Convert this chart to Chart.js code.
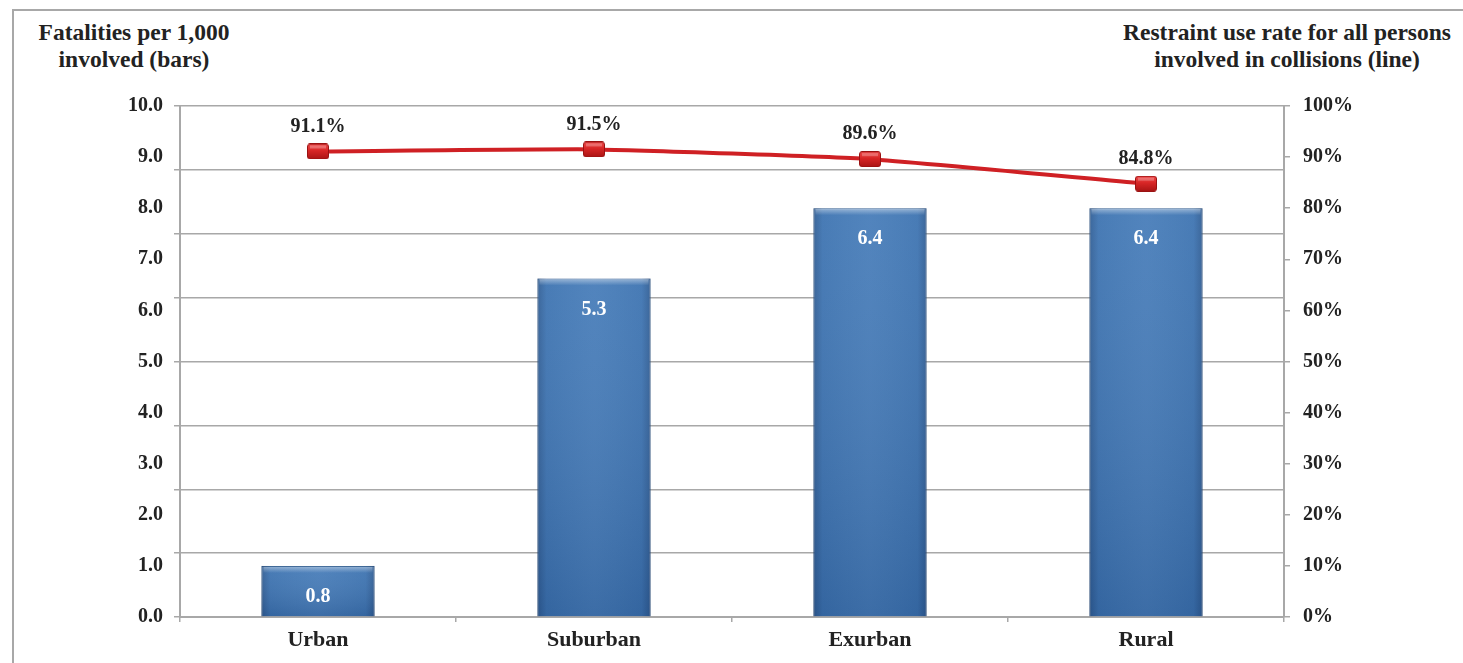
<!DOCTYPE html>
<html>
<head>
<meta charset="utf-8">
<script src="https://cdn.jsdelivr.net/npm/chart.js@4.4.1/dist/chart.umd.min.js"></script>
<style>
  body { margin: 0; background: #fff; }
  #wrap { position: relative; width: 1463px; height: 663px; overflow: hidden; }
  #frame { position: absolute; left: 12px; top: 9px; right: -5px; bottom: -5px;
           border-left: 2px solid #a8a8a8; border-top: 2px solid #a8a8a8; }
  .axis-title { position: absolute; width: 420px; text-align: center;
                font: bold 23.5px "Liberation Serif", serif; line-height: 27px; color: #222; }
  canvas { position: absolute; left: 0; top: 0; }
</style>
</head>
<body>
<div id="wrap">
  <div id="frame"></div>
  <div class="axis-title" style="left:-76px; top:19px;">Fatalities per 1,000<br>involved (bars)</div>
  <div class="axis-title" style="left:1077px; top:19px;">Restraint use rate for all persons<br>involved in collisions (line)</div>
  <canvas id="chart" width="1463" height="663"></canvas>
</div>
<script>
  // categories and series
  const areas = ['Urban', 'Suburban', 'Exurban', 'Rural'];
  const fatalities = [0.8, 5.3, 6.4, 6.4];
  const restraintUse = [91.1, 91.5, 89.6, 84.8];
  // left axis labels run 0.0 .. 10.0, right axis 0% .. 100%
  const leftTicks = [0, 1, 2, 3, 4, 5, 6, 7, 8, 9, 10];
  const rightTicks = [0, 10, 20, 30, 40, 50, 60, 70, 80, 90, 100];

  const FONT = '"Liberation Serif", serif';
  const GRID = '#a8a8a8';
  Chart.defaults.font.family = FONT;
  Chart.defaults.color = '#222';

  // small bevelled red square used for the line markers
  function makeMarker() {
    const c = document.createElement('canvas');
    c.width = 22; c.height = 16;
    const g = c.getContext('2d');
    const grad = g.createLinearGradient(0, 0, 0, 16);
    grad.addColorStop(0, '#f05050');
    grad.addColorStop(0.45, '#d82626');
    grad.addColorStop(1, '#a81414');
    g.fillStyle = grad;
    g.beginPath();
    g.roundRect(0.5, 0.5, 21, 15, 2.5);
    g.fill();
    g.strokeStyle = '#9a1212';
    g.lineWidth = 1;
    g.stroke();
    g.fillStyle = 'rgba(255,255,255,0.25)';
    g.fillRect(3, 2, 16, 3);
    return c;
  }

  // shading on top of the flat bars: darker sides, lighter top edge
  const barShading = {
    id: 'barShading',
    afterDatasetDraw(chart, args) {
      if (args.index !== 0) return;
      const ctx = chart.ctx;
      ctx.save();
      args.meta.data.forEach((bar) => {
        const left = bar.x - bar.width / 2;
        const top = bar.y;
        const h = bar.base - bar.y;
        const hg = ctx.createLinearGradient(left, 0, left + bar.width, 0);
        hg.addColorStop(0, 'rgba(20,45,85,0.35)');
        hg.addColorStop(0.08, 'rgba(20,45,85,0.05)');
        hg.addColorStop(0.5, 'rgba(255,255,255,0.04)');
        hg.addColorStop(0.92, 'rgba(20,45,85,0.05)');
        hg.addColorStop(1, 'rgba(20,45,85,0.35)');
        ctx.fillStyle = hg;
        ctx.fillRect(left, top, bar.width, h);
        const vg = ctx.createLinearGradient(0, top, 0, bar.base);
        vg.addColorStop(0, 'rgba(255,255,255,0.06)');
        vg.addColorStop(1, 'rgba(0,20,60,0.15)');
        ctx.fillStyle = vg;
        ctx.fillRect(left, top, bar.width, h);
        const tg = ctx.createLinearGradient(0, top, 0, top + 7);
        tg.addColorStop(0, 'rgba(255,255,255,0.45)');
        tg.addColorStop(1, 'rgba(255,255,255,0)');
        ctx.fillStyle = tg;
        ctx.fillRect(left + 2, top + 1, bar.width - 4, 7);
      });
      ctx.restore();
    }
  };

  // value labels: white inside the bars, black above the line points
  const valueLabels = {
    id: 'valueLabels',
    afterDatasetsDraw(chart) {
      const ctx = chart.ctx;
      ctx.save();
      ctx.textAlign = 'center';
      ctx.textBaseline = 'middle';
      ctx.font = 'bold 20px ' + FONT;
      ctx.fillStyle = '#ffffff';
      chart.getDatasetMeta(0).data.forEach((bar, i) => {
        ctx.fillText(fatalities[i].toFixed(1), bar.x, bar.y + 31);
      });
      ctx.font = 'bold 20px ' + FONT;
      ctx.fillStyle = '#222';
      chart.getDatasetMeta(1).data.forEach((pt, i) => {
        ctx.fillText(restraintUse[i].toFixed(1) + '%', pt.x, pt.y - 25);
      });
      ctx.restore();
    }
  };

  new Chart(document.getElementById('chart'), {
    type: 'bar',
    data: {
      labels: areas,
      datasets: [
        {
          label: 'Fatalities per 1,000 involved',
          data: fatalities,
          yAxisID: 'yBar',
          backgroundColor: '#3f77b6',
          borderColor: '#2c5a8e',
          borderWidth: 1,
          barPercentage: 0.82,
          categoryPercentage: 0.5,
          order: 1
        },
        {
          type: 'line',
          label: 'Restraint use rate',
          data: restraintUse,
          yAxisID: 'yPct',
          borderColor: '#cf2024',
          borderWidth: 4,
          pointStyle: makeMarker(),
          pointRadius: 10,
          tension: 0.15,
          order: 0
        }
      ]
    },
    options: {
      responsive: false,
      animation: false,
      layout: { padding: { top: 106, left: 114, right: 79, bottom: 6 } },
      plugins: { legend: { display: false }, tooltip: { enabled: false } },
      scales: {
        x: {
          grid: { display: true, drawOnChartArea: false, offset: true, tickLength: 5, color: GRID, lineWidth: 1.5 },
          border: { display: true, color: GRID, width: 2 },
          ticks: { font: { size: 22, weight: 'bold' }, padding: 5, color: '#222' },
          afterFit(s) { s.height = 40; }
        },
        yBar: {
          position: 'left',
          weight: 0,
          min: 0,
          max: 8,
          ticks: { display: false, stepSize: 1 },
          grid: { color: GRID, lineWidth: 1.5, tickLength: 6 },
          border: { display: true, color: GRID, width: 2 },
          afterFit(s) { s.width = 6; }
        },
        yLeft: {
          position: 'left',
          weight: 1,
          min: 0,
          max: 10,
          grid: { display: false, drawTicks: false, tickLength: 0 },
          border: { display: false },
          afterBuildTicks(s) { s.ticks = leftTicks.map(v => ({ value: v })); },
          ticks: {
            padding: 11,
            font: { size: 20, weight: 'bold' },
            color: '#222',
            callback: v => v.toFixed(1)
          },
          afterFit(s) { s.width = 60; }
        },
        yPct: {
          position: 'right',
          min: 0,
          max: 100,
          grid: { drawOnChartArea: false, tickLength: 6, color: GRID, lineWidth: 1.5 },
          border: { display: true, color: GRID, width: 2 },
          afterBuildTicks(s) { s.ticks = rightTicks.map(v => ({ value: v })); },
          ticks: {
            padding: 13,
            font: { size: 20, weight: 'bold' },
            color: '#222',
            callback: v => v + '%'
          },
          afterFit(s) { s.width = 100; }
        }
      }
    },
    plugins: [barShading, valueLabels]
  });
</script>
</body>
</html>
